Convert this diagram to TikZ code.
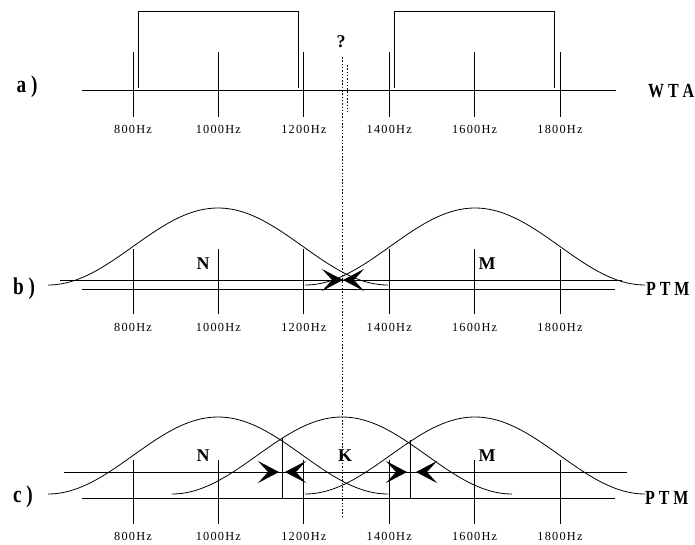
\documentclass[tikz,border=0pt]{standalone}
\usepackage{fontspec}
\setmainfont{Liberation Serif}
\newfontfamily\hzfont[LetterSpace=10]{Liberation Serif}
\usepackage{tikz}
\usetikzlibrary{arrows.meta}
% raised-cosine tuning curve: centre x, base y
\newcommand{\tuning}[2]{plot[domain=-170:170, samples=71, smooth]
  ({#1+\x},{#2-77*(1+cos(\x/170*180))/2})}
% narrow bold lettering
\newcommand{\narrow}[1]{\scalebox{0.8}[1]{#1}}

\begin{document}
\begin{tikzpicture}[
  x=1pt, y=-1pt,
  every node/.style={inner sep=0pt, outer sep=0pt},
  axis/.style={line width=0.8pt},
  curve/.style={line width=0.8pt},
  hz/.style={font=\hzfont\fontsize{12.3}{14}\selectfont},
  panel/.style={font=\bfseries\fontsize{24}{26}\selectfont},
  net/.style={font=\bfseries\fontsize{20}{22}\selectfont},
  tag/.style={font=\bfseries\fontsize{18}{20}\selectfont},
  dotline/.style={line width=0.9pt, dash pattern=on 1.5pt off 1.8pt},
  push/.style={-{Stealth[length=21pt, width=22pt, inset=10pt]}, line width=0.8pt},
]
  \useasboundingbox (0,0) rectangle (695,544);

  % Frequency ticks and labels — three panels
  \foreach \p/\top/\bot/\lab in {a/52/117/129, b/249/314/327, c/460/524/536}{
    \foreach \f [count=\i from 0] in {800,1000,1200,1400,1600,1800}{
      \pgfmathsetmacro\tx{133+85.4*\i}
      \draw[axis] (\tx,\top) -- (\tx,\bot);
      \node[hz] (\p\f) at (\tx,\lab) {\f Hz};
    }
  }

  % Panel a: WTA
  \node[panel] (la) at (27,87) {\narrow{a )}};
  \node[net, anchor=west] (wta) at (648,91) {\narrow{W T A}};
  \draw[axis] (82,90) -- (616,90);
  \draw[axis] (138,88) |- (298,11) -- (298,88);
  \draw[axis] (394,88) |- (554,11) -- (554,88);

  % Open question and the dotted divide
  \node[tag] (ask) at (341,42) {?};
  \coordinate (qtop) at (342,57);
  \coordinate (qbot) at (342,517);
  \draw[dotline] (qtop) -- (qbot);
  \coordinate (qtop2) at (347,65);
  \coordinate (qbot2) at (347,112);
  \draw[dotline] (qtop2) -- (qbot2);

  % Panel b: two tuning curves
  \node[panel] (lb) at (24,289) {\narrow{b )}};
  \node[net, anchor=west] (ptmb) at (646,289) {\narrow{P T M}};
  \draw[axis] (60,280) -- (622,280);
  \draw[axis] (82,289) -- (615,289);
  \draw[curve] \tuning{218}{285};
  \draw[curve] \tuning{475}{285};
  \node[tag] (Nb) at (203,264) {N};
  \node[tag] (Mb) at (487,264) {M};
  \coordinate (meetb) at (343,280);
  \draw[push] (b1200.north |- meetb) -- (meetb);
  \draw[push] (b1400.north |- meetb) -- (meetb);

  % Panel c: three tuning curves
  \node[panel] (lc) at (23,497) {\narrow{c )}};
  \node[net, anchor=west] (ptmc) at (645,498) {\narrow{P T M}};
  \draw[axis] (64,472) -- (627,472);
  \draw[axis] (82,498) -- (615,498);
  \draw[curve] \tuning{218}{494};
  \draw[curve] \tuning{342}{494};
  \draw[curve] \tuning{475}{494};
  \node[tag] (Nc) at (203,456) {N};
  \node[tag] (Kc) at (345,456) {K};
  \node[tag] (Mc) at (487,456) {M};

  % borders between the curves
  \coordinate (bNK) at (282,438);
  \coordinate (bKM) at (410,440);
  \draw[axis] (bNK) -- (bNK |- 0,498);
  \draw[axis] (bKM) -- (bKM |- 0,498);
  \draw[push] (c1000.north |- 0,472) -- (279,472);
  \draw[push] (qbot |- 0,472) -- (285,472);
  \draw[push] (qbot |- 0,472) -- (407,472);
  \draw[push] (c1600.north |- 0,472) -- (416,472);
\end{tikzpicture}
\end{document}
